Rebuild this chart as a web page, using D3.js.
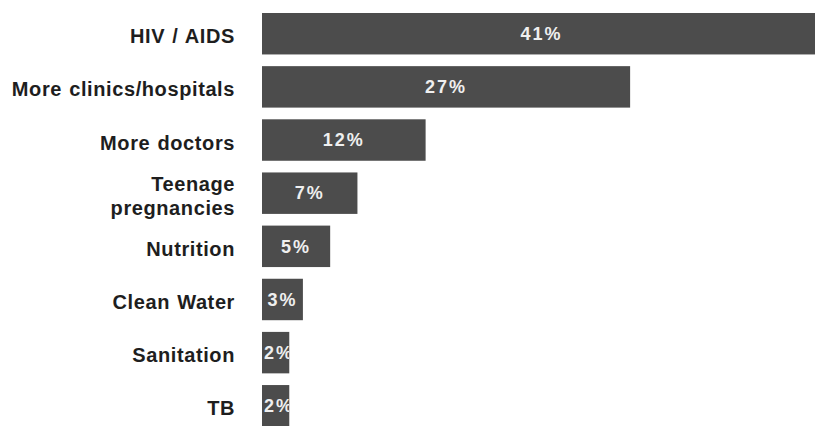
<!DOCTYPE html>
<html>
<head>
<meta charset="utf-8">
<script src="https://cdn.jsdelivr.net/npm/d3@7"></script>
<style>
  html, body { margin: 0; padding: 0; background: #fff; }
  svg { display: block; }
</style>
</head>
<body>
<svg id="chart" width="815" height="426"></svg>
<script>
// Health priorities, share of responses
const categories = ["HIV / AIDS", "More clinics/hospitals", "More doctors", "Teenage\npregnancies",
                    "Nutrition", "Clean Water", "Sanitation", "TB"];
const values = [41, 27, 12, 7, 5, 3, 2, 2];
const valueLabels = ["41%", "27%", "12%", "7%", "5%", "3%", "2%", "2%"];

const svg = d3.select("#chart");
const margin = { left: 262, top: 13 };
const bandStep = 53.15;
const innerPad = 0.22;
const plotH = bandStep * (categories.length - innerPad);

const x = d3.scaleLinear().domain([0, 41]).range([margin.left, margin.left + 559]);
const y = d3.scaleBand()
  .domain(categories)
  .range([margin.top, margin.top + plotH])
  .paddingInner(innerPad)
  .paddingOuter(0);

// bars
svg.append("g").selectAll("rect")
  .data(values)
  .join("rect")
  .attr("x", x(0))
  .attr("y", (d, i) => y(categories[i]))
  .attr("width", d => x(d) - x(0))
  .attr("height", y.bandwidth())
  .attr("fill", "#4c4c4c");

// clip paths so value labels stay inside their bars
const defs = svg.append("defs");
values.forEach((d, i) => {
  defs.append("clipPath").attr("id", "clip" + i)
    .append("rect")
    .attr("x", x(0)).attr("y", y(categories[i]))
    .attr("width", x(d) - x(0)).attr("height", y.bandwidth());
});

// value labels
svg.append("g").selectAll("text")
  .data(values)
  .join("text")
  .attr("clip-path", (d, i) => `url(#clip${i})`)
  .attr("x", d => {
    const w = x(d) - x(0);
    return w < 30 ? x(0) + 2 : (x(0) + x(d)) / 2;
  })
  .attr("text-anchor", d => (x(d) - x(0)) < 30 ? "start" : "middle")
  .attr("y", (d, i) => y(categories[i]) + y.bandwidth() / 2)
  .attr("dy", "0.35em")
  .attr("fill", "#efefef")
  .style("font-family", "'Liberation Sans', Arial, sans-serif")
  .style("font-weight", "bold")
  .style("font-size", "18px")
  .style("letter-spacing", "2px")
  .text((d, i) => valueLabels[i]);

// category axis
const axis = svg.append("g")
  .attr("transform", `translate(${margin.left - 27},0)`)
  .call(d3.axisLeft(y).tickSize(0).tickPadding(0).tickFormat(""));
axis.select(".domain").remove();

axis.selectAll(".tick").each(function(d) {
  const lines = d.split("\n");
  const t = d3.select(this).append("text")
    .attr("text-anchor", "end")
    .attr("fill", "#1e1e1e")
    .style("font-family", "'Liberation Sans', Arial, sans-serif")
    .style("font-weight", "bold")
    .style("font-size", "20px")
    .style("letter-spacing", "0.6px")
    .style("word-spacing", "1px");
  const lh = 24;
  lines.forEach((line, k) => {
    t.append("tspan")
      .attr("x", 0)
      .attr("y", (k - (lines.length - 1) / 2) * lh + 2.5)
      .attr("dy", "0.35em")
      .text(line);
  });
});
</script>
</body>
</html>
